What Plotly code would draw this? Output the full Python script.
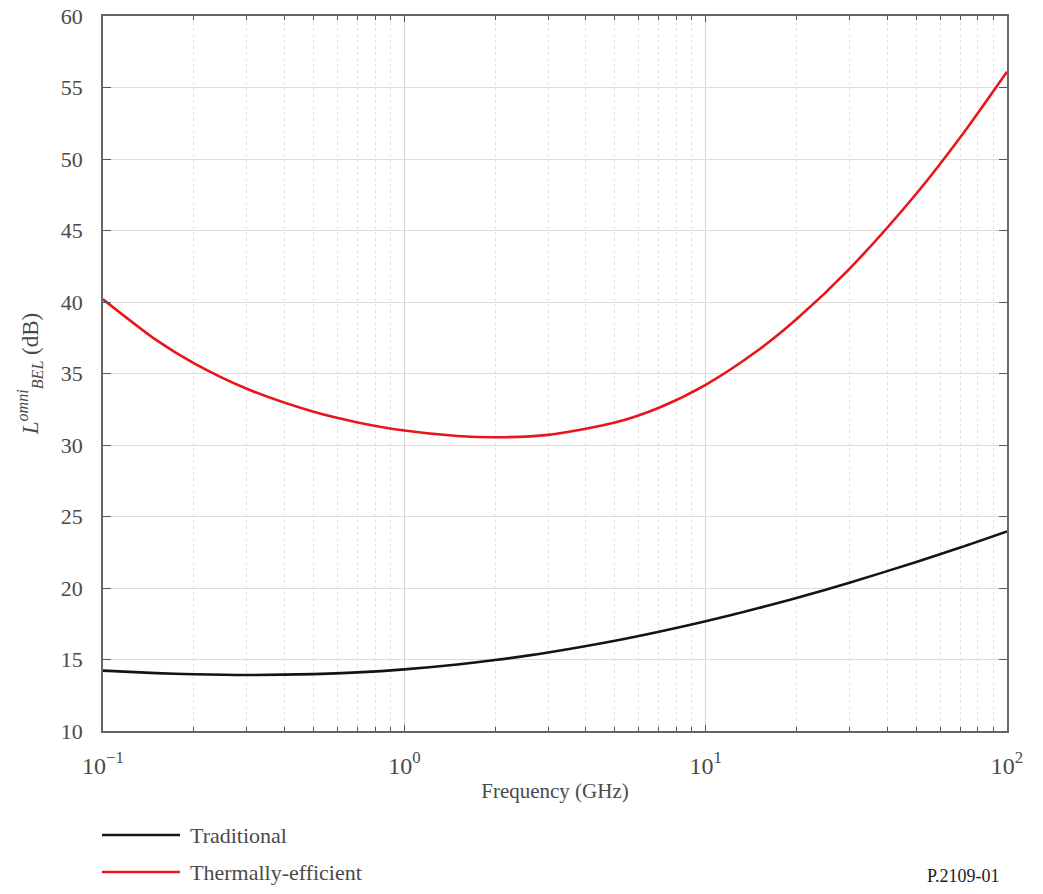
import plotly.graph_objects as go

# Frequency (GHz)
freq = [0.1, 0.15, 0.2, 0.3, 0.5, 0.7, 1.0, 1.5, 2.0, 3.0, 5.0, 7.0, 10.0, 15.0, 20.0, 30.0, 50.0, 70.0, 100.0]
# Building entry loss (dB)
traditional = [14.22, 14.05, 13.97, 13.92, 13.98, 14.10, 14.31, 14.65, 14.96, 15.49, 16.31, 16.94, 17.67, 18.60, 19.30, 20.37, 21.82, 22.83, 23.96]
thermally_efficient = [40.19, 37.35, 35.72, 33.93, 32.32, 31.58, 31.01, 30.63, 30.54, 30.71, 31.57, 32.61, 34.21, 36.66, 38.79, 42.32, 47.57, 51.52, 56.11]

series_names = ["Traditional", "Thermally-efficient"]
series_colors = ["#141414", "#e8161b"]

x_major = [0.1, 1, 10, 100]
x_major_text = ["10<sup>−1</sup>", "10<sup>0</sup>", "10<sup>1</sup>", "10<sup>2</sup>"]
x_minor = [m * d for d in (0.1, 1, 10) for m in range(2, 10)]
y_ticks = [10, 15, 20, 25, 30, 35, 40, 45, 50, 55, 60]

FONT = "Liberation Serif, Times New Roman, serif"
TXT = "#4a4a4a"

fig = go.Figure()
for name, vals, col in zip(series_names, [traditional, thermally_efficient], series_colors):
    fig.add_trace(go.Scatter(x=freq, y=vals, mode="lines", name=name,
                             line=dict(color=col, width=2.6, shape="spline", smoothing=0.8),
                             showlegend=False))

fig.update_layout(
    width=1043, height=894,
    margin=dict(l=103, r=36, t=16, b=163, autoexpand=False),
    paper_bgcolor="white", plot_bgcolor="white",
    font=dict(family=FONT, color=TXT, size=21),
)
fig.update_xaxes(
    type="log", range=[-1, 2], automargin=False,
    tickmode="array", tickvals=x_major, ticktext=x_major_text,
    tickfont=dict(size=24, family=FONT, color=TXT),
    ticks="inside", ticklen=6, tickcolor="#555",
    showline=True, linecolor="#666", linewidth=1.5, mirror="ticks",
    showgrid=True, gridcolor="#d4d4d4", gridwidth=1,
    minor=dict(tickmode="array", tickvals=x_minor, ticks="inside", ticklen=4,
               tickcolor="#555", showgrid=True, gridcolor="#e2e2e2", griddash="dot", gridwidth=1),
    ticklabelstandoff=12, ticklabeloverflow="allow",
    title=dict(text="Frequency (GHz)", font=dict(size=21, family=FONT, color=TXT), standoff=6),
    zeroline=False,
)
fig.update_yaxes(
    range=[10, 60], tickmode="array", tickvals=y_ticks, automargin=False,
    tickfont=dict(size=22, family=FONT, color=TXT),
    ticks="inside", ticklen=8, tickcolor="#555",
    showline=True, linecolor="#666", linewidth=1.5, mirror="ticks",
    showgrid=True, gridcolor="#dcdcdc", gridwidth=1,
    ticklabelstandoff=14, ticklabeloverflow="allow",
    title=dict(text="<i>L</i><sup><i>omni</i></sup><sub><i>BEL</i></sub> (dB)",
               font=dict(size=23, family=FONT, color=TXT), standoff=16),
    zeroline=False,
)

# Legend drawn below the plot (positions relative to plot area 103..1007 x 16..731)
leg_y = [835, 872]
for name, col, yy in zip(series_names, series_colors, leg_y):
    fig.add_shape(type="line", xref="paper", yref="paper",
                  x0=(102 - 103) / 904, x1=(180 - 103) / 904,
                  y0=(731 - yy) / 715, y1=(731 - yy) / 715,
                  line=dict(color=col, width=2.6))
    fig.add_annotation(xref="paper", yref="paper", x=(188 - 103) / 904, y=(731 - yy) / 715,
                       text=name, showarrow=False, xanchor="left", yanchor="middle",
                       font=dict(size=22, family=FONT, color=TXT))

fig.add_annotation(xref="paper", yref="paper", x=(1002 - 103) / 904, y=(731 - 876) / 715,
                   text="P.2109-01", showarrow=False, xanchor="right", yanchor="middle",
                   font=dict(size=18, family=FONT, color="#222"))

fig.write_html("out.html", config={"displayModeBar": False},
               post_script="document.body.style.margin='0';")
